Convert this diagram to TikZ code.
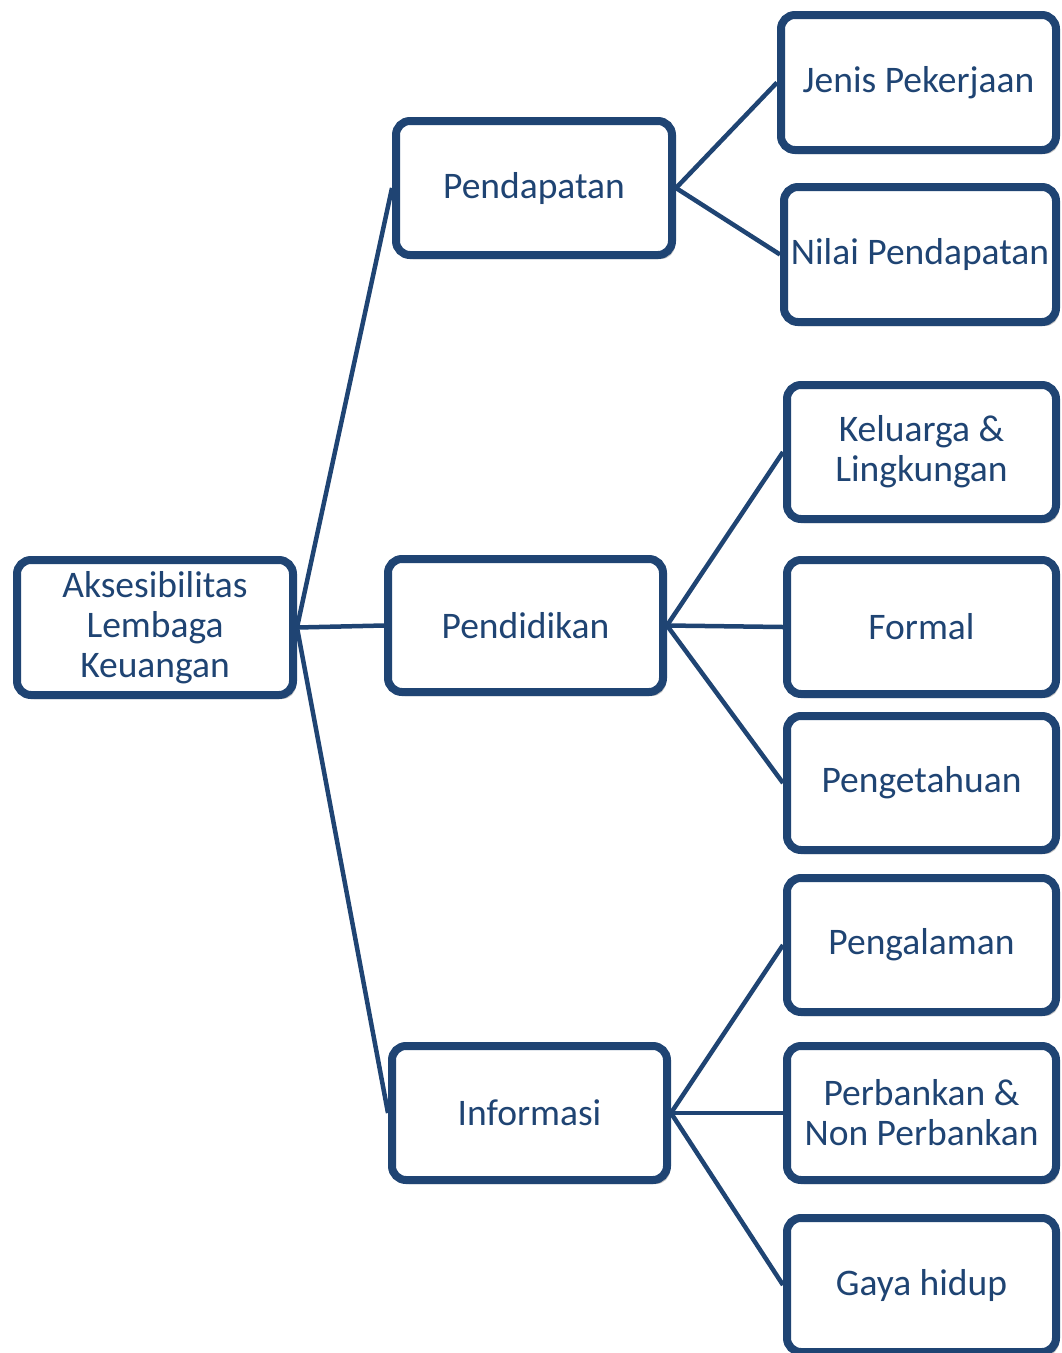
\documentclass[tikz,border=0pt]{standalone}
\usepackage{fontspec}
\setmainfont{Carlito}
\usetikzlibrary{shadows}
\definecolor{navy}{RGB}{31,68,115}
\tikzset{
  box/.style={draw=navy, line width=8pt, rounded corners=14pt, fill=white,
    text=navy, align=center, font=\fontsize{37.5}{40}\selectfont,
    drop shadow={shadow xshift=3pt, shadow yshift=-4pt, opacity=0.25, fill=black},
    inner sep=0pt},
  link/.style={draw=navy, line width=4.5pt}
}
\begin{document}
\begin{tikzpicture}[x=1pt,y=-1pt]
\useasboundingbox (0,0) rectangle (1062,1353);
\newcommand{\bx}[6]{\node[box, minimum width=#4-#2, minimum height=#5-#3] (#1) at ({(#2+#4)/2},{(#3+#5)/2}) {#6};}
\bx{root}{17}{560}{293}{695}{Aksesibilitas\\Lembaga\\Keuangan}
\bx{pend}{396}{121}{672}{255}{Pendapatan}
\bx{pddk}{388}{559}{663}{692}{Pendidikan}
\bx{info}{392}{1046}{667}{1180}{Informasi}
\bx{jenis}{781}{15}{1056}{150}{Jenis Pekerjaan}
\bx{nilai}{784}{187}{1056}{322}{Nilai Pendapatan}
\bx{kel}{787}{385}{1056}{519}{Keluarga \&\\Lingkungan}
\bx{formal}{787}{560}{1056}{694}{Formal}
\bx{tahu}{787}{716}{1056}{850}{Pengetahuan}
\bx{alam}{787}{878}{1056}{1012}{Pengalaman}
\bx{bank}{787}{1046}{1056}{1180}{Perbankan \&\\Non Perbankan}
\bx{gaya}{787}{1218}{1056}{1352}{Gaya hidup}
\draw[link] (root.east) -- (pend.west);
\draw[link] (root.east) -- (pddk.west);
\draw[link] (root.east) -- (info.west);
\draw[link] (pend.east) -- (jenis.west);
\draw[link] (pend.east) -- (nilai.west);
\draw[link] (pddk.east) -- (kel.west);
\draw[link] (pddk.east) -- (formal.west);
\draw[link] (pddk.east) -- (tahu.west);
\draw[link] (info.east) -- (alam.west);
\draw[link] (info.east) -- (bank.west);
\draw[link] (info.east) -- (gaya.west);
\end{tikzpicture}
\end{document}
